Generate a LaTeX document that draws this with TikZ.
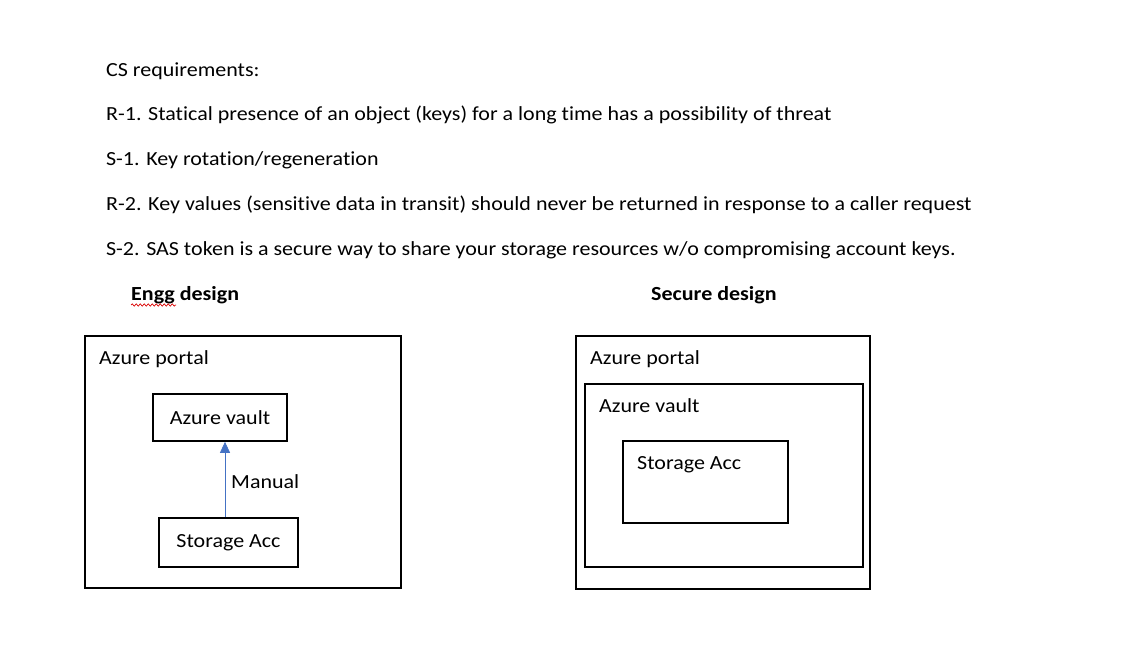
\documentclass[tikz,border=0pt]{standalone}
\usepackage{fontspec}
\setmainfont{Carlito}[FakeStretch=1.10,Ligatures=NoCommon]
\usetikzlibrary{arrows.meta,decorations.pathmorphing}
\definecolor{arrowblue}{HTML}{4472C4}
\begin{document}
\begin{tikzpicture}[x=1pt,y=-1pt,
  txt/.style={inner sep=0pt,anchor=base west,font=\fontsize{20}{24}\selectfont},
  hd/.style={txt,font=\fontsize{20}{24}\selectfont\bfseries},
  frame/.style={draw,line width=1.6pt,inner sep=0pt,anchor=north west},
  boxed/.style={draw,line width=1.6pt,inner sep=0pt,font=\fontsize{20}{24}\selectfont},
  conn/.style={draw=arrowblue,line width=0.8pt,-{Triangle[width=10pt,length=11pt]}}]
\useasboundingbox (0,0) rectangle (1136,663);
% requirement lines
\node[txt] (l0) at (106,76.5) {CS requirements:};
\node[txt] (l1) at (106,120.5) {R-1. Statical presence of an object (keys) for a long time has a possibility of threat};
\node[txt] (l2) at (106,165.5) {S-1. Key rotation/regeneration};
\node[txt] (l3) at (106,210.5) {R-2. Key values (sensitive data in transit) should never be returned in response to a caller request};
\node[txt] (l4) at (106,255.5) {S-2. SAS token is a secure way to share your storage resources w/o compromising account keys.};
% headings
\node[hd] (h1) at (131,300.5) {Engg design};
\node[hd] (h2) at (651,300.5) {Secure design};
\draw[red!85!black,line width=0.7pt,decorate,decoration={snake,amplitude=1.2pt,segment length=4pt}] (131,305) -- (176,305);
% left design
\node[frame,minimum width=316pt,minimum height=252pt] (lportal) at (84,335) {};
\node[txt] (lportalt) at (99,364) {Azure portal};
\node[boxed,minimum width=134pt,minimum height=47pt] (lvault) at (220,417.5) {Azure vault};
\node[boxed,minimum width=139pt,minimum height=49pt] (lstor) at (228.5,542.5) {Storage Acc};
\coordinate (ax) at (225,0);
\draw[conn] (lstor.north -| ax) -- (lvault.south -| ax);
\node[txt] (man) at (231,488) {Manual};
% right design
\node[frame,minimum width=294pt,minimum height=253pt] (rportal) at (575,335) {};
\node[txt] (rportalt) at (590,364) {Azure portal};
\node[frame,minimum width=278pt,minimum height=183pt] (rvault) at (584,383) {};
\node[txt] (rvaultt) at (599,412) {Azure vault};
\node[frame,minimum width=165pt,minimum height=82pt] (rstor) at (622,440) {};
\node[txt] (rstort) at (637,469) {Storage Acc};
\end{tikzpicture}
\end{document}
